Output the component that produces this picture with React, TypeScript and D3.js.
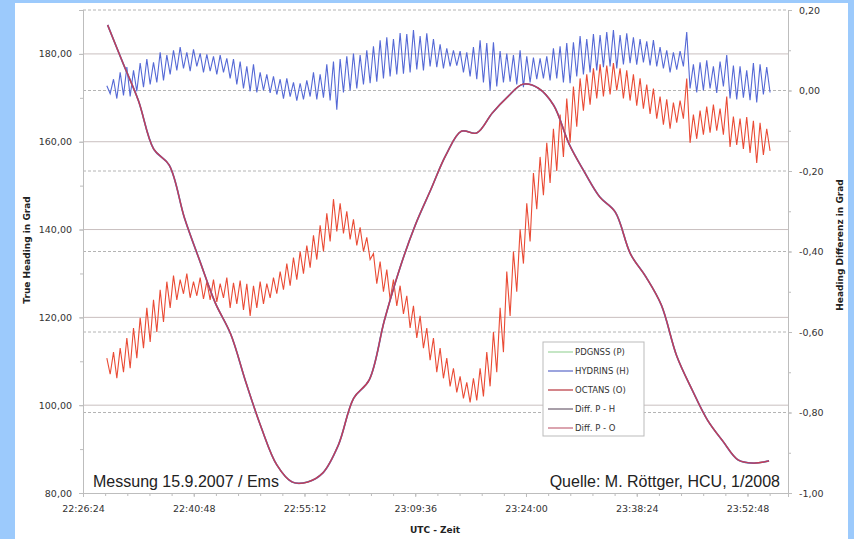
import React, { useEffect, useRef } from 'react';
import * as d3 from 'd3';

const W = 854;
const H = 539;

// x axis (UTC time)
const timeTicks = ['22:26:24', '22:40:48', '22:55:12', '23:09:36', '23:24:00', '23:38:24', '23:52:48'];
const timeMax = '23:58:04';

// y axes
const leftTicks = [80, 100, 120, 140, 160, 180];
const rightTicks = [-1, -0.8, -0.6, -0.4, -0.2, 0, 0.2];

// true heading in Grad (PDGNSS, HYDRINS and OCTANS lie on top of each other), every 120 s
const headingStart = '22:29:36';
const headingStep = 120;
const heading = [
  186.6, 177.9, 169.4, 158.3, 154.7, 142.6, 132.8, 123.3, 116.2, 105.1,
  94.8, 86.4, 82.5, 82.5, 84.6, 90.9, 101.6, 105.7, 119.4, 131.2,
  141.0, 149.0, 157.0, 162.4, 162.0, 166.5, 170.2, 173.1, 172.2, 168.3,
  159.5, 153.1, 147.4, 144.0, 134.4, 129.2, 122.8, 111.2, 103.5, 96.6,
  91.8, 87.5, 86.8, 87.3,
];

// heading differences in Grad, every 26 s
const diffStart = '22:29:30';
const diffStep = 26;
const diffPH = [
  0.012, -0.008, 0.028, -0.020, 0.045, -0.012, 0.058, -0.015, 0.050, -0.002,
  0.068, 0.008, 0.078, 0.015, 0.070, 0.020, 0.095, 0.025, 0.088, 0.040,
  0.100, 0.050, 0.108, 0.055, 0.095, 0.048, 0.102, 0.060, 0.092, 0.045,
  0.090, 0.048, 0.085, 0.040, 0.088, 0.045, 0.080, 0.030, 0.078, 0.015,
  0.072, 0.005, 0.060, -0.002, 0.065, -0.005, 0.045, 0.000, 0.040, -0.006,
  0.035, -0.010, 0.028, -0.020, 0.030, -0.015, 0.020, -0.025, 0.018, -0.022,
  0.025, -0.015, 0.045, -0.022, 0.040, -0.018, 0.065, -0.025, 0.072, -0.048,
  0.078, -0.005, 0.085, 0.000, 0.092, 0.005, 0.088, 0.015, 0.100, 0.018,
  0.110, 0.022, 0.125, 0.030, 0.132, 0.035, 0.128, 0.040, 0.143, 0.042,
  0.140, 0.045, 0.150, 0.052, 0.135, 0.050, 0.142, 0.060, 0.128, 0.058,
  0.115, 0.055, 0.105, 0.060, 0.100, 0.062, 0.098, 0.045, 0.095, 0.035,
  0.108, 0.028, 0.125, 0.020, 0.118, 0.000, 0.120, 0.010, 0.098, 0.020,
  0.092, 0.022, 0.088, 0.015, 0.100, 0.008, 0.085, 0.020, 0.082, 0.028,
  0.080, 0.030, 0.085, 0.025, 0.105, 0.030, 0.110, 0.020, 0.118, 0.018,
  0.120, 0.035, 0.135, 0.040, 0.128, 0.045, 0.140, 0.050, 0.138, 0.058,
  0.145, 0.060, 0.150, 0.055, 0.138, 0.065, 0.142, 0.068, 0.132, 0.064,
  0.128, 0.070, 0.122, 0.062, 0.125, 0.060, 0.108, 0.055, 0.100, 0.045,
  0.095, 0.052, 0.098, 0.060, 0.145, 0.005, 0.065, -0.005, 0.070, 0.000,
  0.075, 0.005, 0.060, -0.006, 0.072, 0.010, 0.088, -0.020, 0.062, -0.022,
  0.060, -0.018, 0.050, -0.024, 0.068, -0.030, 0.065, -0.010, 0.058, -0.005,
];
const diffPO = [
  -0.665, -0.705, -0.650, -0.715, -0.640, -0.700, -0.615, -0.690, -0.590, -0.665,
  -0.565, -0.640, -0.540, -0.625, -0.520, -0.600, -0.495, -0.575, -0.475, -0.540,
  -0.460, -0.520, -0.470, -0.505, -0.455, -0.515, -0.475, -0.510, -0.465, -0.518,
  -0.475, -0.520, -0.470, -0.525, -0.480, -0.515, -0.465, -0.540, -0.478, -0.530,
  -0.472, -0.545, -0.480, -0.560, -0.485, -0.540, -0.475, -0.530, -0.480, -0.515,
  -0.465, -0.505, -0.450, -0.495, -0.430, -0.485, -0.415, -0.470, -0.400, -0.455,
  -0.385, -0.440, -0.360, -0.420, -0.335, -0.400, -0.305, -0.375, -0.270, -0.350,
  -0.280, -0.355, -0.300, -0.370, -0.320, -0.385, -0.340, -0.400, -0.365, -0.420,
  -0.405, -0.480, -0.425, -0.500, -0.445, -0.520, -0.470, -0.535, -0.485, -0.555,
  -0.510, -0.590, -0.535, -0.615, -0.560, -0.640, -0.590, -0.670, -0.615, -0.700,
  -0.640, -0.715, -0.665, -0.735, -0.690, -0.750, -0.710, -0.765, -0.725, -0.775,
  -0.715, -0.770, -0.690, -0.760, -0.650, -0.735, -0.600, -0.700, -0.540, -0.650,
  -0.450, -0.560, -0.400, -0.500, -0.345, -0.430, -0.280, -0.375, -0.205, -0.295,
  -0.165, -0.260, -0.130, -0.230, -0.095, -0.200, -0.060, -0.165, -0.020, -0.130,
  0.010, -0.090, 0.030, -0.050, 0.040, -0.035, 0.055, -0.020, 0.065, -0.015,
  0.062, -0.010, 0.068, 0.000, 0.055, -0.020, 0.050, -0.025, 0.040, -0.038,
  0.030, -0.045, 0.015, -0.058, 0.005, -0.070, -0.015, -0.085, -0.022, -0.095,
  -0.030, -0.080, -0.025, -0.070, 0.030, -0.130, -0.060, -0.120, -0.050, -0.110,
  -0.040, -0.105, -0.035, -0.100, -0.045, -0.110, -0.015, -0.140, -0.065, -0.135,
  -0.070, -0.145, -0.066, -0.155, -0.075, -0.180, -0.080, -0.160, -0.095, -0.150,
];

const legendNames = ['PDGNSS (P)', 'HYDRINS (H)', 'OCTANS (O)', 'Diff. P - H', 'Diff. P - O'];
const legendColors = ['#9fd69f', '#5a68c8', '#b8343c', '#6e5f70', '#c4687a'];

const toSec = (s: string) => {
  const [h, m, x] = s.split(':').map(Number);
  return h * 3600 + m * 60 + x;
};
const comma = (v: number) => v.toFixed(2).replace('.', ',');

const App = () => {
  const ref = useRef<SVGSVGElement>(null);

  useEffect(() => {
    document.body.style.margin = '0';
    const svg = d3.select(ref.current);
    svg.selectAll('*').remove();

    const left = 83, right = 788, top = 10, bottom = 493;
    const font = '"DejaVu Sans", Verdana, sans-serif';

    svg.append('rect').attr('width', W).attr('height', H).attr('fill', '#9ccafc');
    svg.append('rect').attr('x', 15).attr('y', 3).attr('width', 833).attr('height', H - 3).attr('fill', '#ffffff');

    const x = d3.scaleLinear().domain([toSec(timeTicks[0]), toSec(timeMax)]).range([left, right]);
    const yL = d3.scaleLinear().domain([80, 190]).range([bottom, top]);
    const yR = d3.scaleLinear().domain([-1, 0.2]).range([bottom, top]);

    // grid: solid for the left axis, dashed for the right axis
    svg.append('g').selectAll('line')
      .data(leftTicks.filter(v => v > 80))
      .enter().append('line')
      .attr('x1', left).attr('x2', right)
      .attr('y1', d => yL(d)).attr('y2', d => yL(d))
      .attr('stroke', '#c9bfbf').attr('stroke-width', 1);

    svg.append('g').selectAll('line')
      .data(rightTicks.filter(v => v > -1))
      .enter().append('line')
      .attr('x1', left).attr('x2', right)
      .attr('y1', d => yR(d)).attr('y2', d => yR(d))
      .attr('stroke', '#b4b4b4').attr('stroke-width', 1)
      .attr('stroke-dasharray', '3,2');

    const styleAxis = (g: any) => {
      g.select('.domain').attr('stroke', '#bdbdbd');
      g.selectAll('.tick line').attr('stroke', '#bdbdbd');
      g.selectAll('text').attr('fill', '#333').style('font-family', font).style('font-size', '9.5px');
    };

    // minor ticks
    svg.append('g')
      .attr('transform', `translate(${left},0)`)
      .call(d3.axisLeft(yL).tickValues(d3.range(80, 191, 10)).tickSize(3).tickFormat(() => ''))
      .call(styleAxis);
    svg.append('g')
      .attr('transform', `translate(${right},0)`)
      .call(d3.axisRight(yR).tickValues(d3.range(-1, 0.21, 0.1)).tickSize(3).tickFormat(() => ''))
      .call(styleAxis);
    svg.append('g')
      .attr('transform', `translate(0,${bottom})`)
      .call(d3.axisBottom(x).tickValues(d3.range(toSec(timeTicks[0]), toSec(timeMax), 864 / 5)).tickSize(3).tickFormat(() => ''))
      .call(styleAxis);

    svg.append('g')
      .attr('transform', `translate(${left},0)`)
      .call(d3.axisLeft(yL).tickValues(leftTicks).tickSize(4).tickPadding(7).tickFormat(d => comma(+d)))
      .call(styleAxis);

    svg.append('g')
      .attr('transform', `translate(${right},0)`)
      .call(d3.axisRight(yR).tickValues(rightTicks).tickSize(4).tickPadding(7).tickFormat(d => comma(+d)))
      .call(styleAxis);

    svg.append('g')
      .attr('transform', `translate(0,${bottom})`)
      .call(d3.axisBottom(x).tickValues(timeTicks.map(toSec)).tickSize(4).tickPadding(8).tickFormat((d, i) => timeTicks[i]))
      .call(styleAxis);

    // axis titles
    svg.append('text')
      .attr('transform', 'translate(30,250) rotate(-90)')
      .attr('text-anchor', 'middle')
      .style('font-family', font).style('font-size', '9px').style('font-weight', 'bold')
      .attr('fill', '#222')
      .text('True Heading in Grad');
    svg.append('text')
      .attr('transform', 'translate(843,245) rotate(-90)')
      .attr('text-anchor', 'middle')
      .style('font-family', font).style('font-size', '9px').style('font-weight', 'bold')
      .attr('fill', '#222')
      .text('Heading Differenz in Grad');
    svg.append('text')
      .attr('x', 435).attr('y', 533)
      .attr('text-anchor', 'middle')
      .style('font-family', font).style('font-size', '9px').style('font-weight', 'bold')
      .attr('fill', '#222')
      .text('UTC - Zeit');

    // heading differences (right axis)
    const diffLine = d3.line<number>()
      .x((d, i) => x(toSec(diffStart) + i * diffStep))
      .y(d => yR(d));

    svg.append('path').datum(diffPH)
      .attr('d', diffLine).attr('fill', 'none')
      .attr('stroke', '#5569d6').attr('stroke-width', 1.1);
    svg.append('path').datum(diffPO)
      .attr('d', diffLine).attr('fill', 'none')
      .attr('stroke', '#ea4b35').attr('stroke-width', 1.1);

    // true heading (left axis)
    const headingLine = d3.line<number>()
      .x((d, i) => x(toSec(headingStart) + i * headingStep))
      .y(d => yL(d))
      .curve(d3.curveCatmullRom);

    svg.append('path').datum(heading)
      .attr('d', headingLine).attr('fill', 'none')
      .attr('stroke', '#8fd08f').attr('stroke-width', 1.4);
    svg.append('path').datum(heading)
      .attr('d', headingLine).attr('fill', 'none')
      .attr('stroke', '#6a6ac4').attr('stroke-width', 1.7);
    svg.append('path').datum(heading)
      .attr('d', headingLine).attr('fill', 'none')
      .attr('stroke', '#c43c55').attr('stroke-width', 1.3);

    // legend
    const lg = svg.append('g');
    lg.append('rect')
      .attr('x', 543).attr('y', 342).attr('width', 101).attr('height', 94)
      .attr('fill', '#fff').attr('stroke', '#bbb');
    legendNames.forEach((name, i) => {
      const ly = 352 + i * 19;
      lg.append('line')
        .attr('x1', 548).attr('x2', 573).attr('y1', ly).attr('y2', ly)
        .attr('stroke', legendColors[i]).attr('stroke-width', 1.2);
      lg.append('text')
        .attr('x', 575).attr('y', ly).attr('dy', '0.35em')
        .style('font-family', font).style('font-size', '8.5px')
        .attr('fill', '#333')
        .text(name);
    });

    // notes
    svg.append('text')
      .attr('x', 93).attr('y', 487)
      .style('font-family', '"Liberation Sans", Arial, sans-serif').style('font-size', '16px')
      .attr('fill', '#222')
      .text('Messung 15.9.2007 / Ems');
    svg.append('text')
      .attr('x', 780).attr('y', 487)
      .attr('text-anchor', 'end')
      .style('font-family', '"Liberation Sans", Arial, sans-serif').style('font-size', '16px')
      .attr('fill', '#222')
      .text('Quelle: M. Röttger, HCU, 1/2008');
  }, []);

  return <svg ref={ref} width={W} height={H} style={{ display: 'block' }}></svg>;
};

export default App;
